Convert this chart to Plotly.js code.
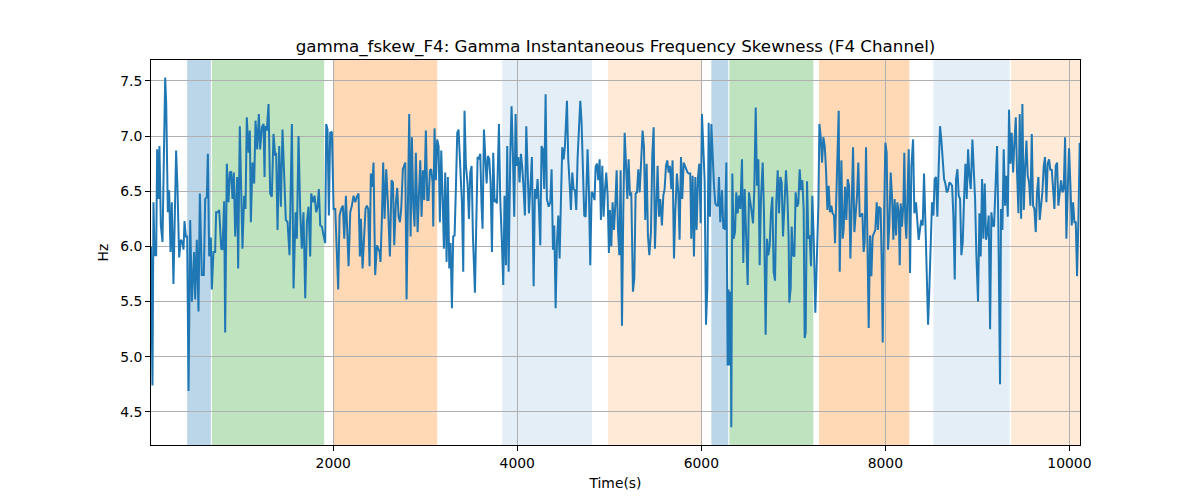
<!DOCTYPE html>
<html>
<head>
<meta charset="utf-8">
<script src="https://cdn.plot.ly/plotly-3.0.1.min.js"></script>
<style>html,body{margin:0;padding:0;background:#fff;}#chart{width:1200px;height:500px;}</style>
</head>
<body>
<div id="chart"></div>
<script>
const chartTitle = "gamma_fskew_F4: Gamma Instantaneous Frequency Skewness (F4 Channel)";
const xLabel = "Time(s)";
const yLabel = "Hz";

const time = [20,36,47,58,76,87,101,112,127,145,174,185,203,217,232,246,264,293,308,326,344,362,373,384,399,413,428,446,464,489,500,518,536,551,572,594,609,627,638,652,670,681,699,717,728,746,761,783,797,815,826,844,862,877,891,906,920,935,956,967,985,1014,1032,1047,1061,1080,1094,1105,1123,1141,1156,1174,1192,1206,1225,1243,1254,
1261,1279,1297,1315,1333,1351,1370,1380,1395,1413,1431,1449,1467,1485,1504,1525,1551,1569,1591,1605,1623,1641,1659,1677,1696,1714,1732,1750,1761,1779,1797,1815,1830,1844,1859,1877,1895,1913,1924,1938,1953,1967,1985,2004,2022,2040,2054,2069,2087,2105,2120,2138,2167,2185,2203,2221,2239,2257,2275,2290,2301,2319,2337,2351,2366,2380,2395,2409,2424,2438,2456,2475,2504,
2514,2529,2543,2558,2576,2594,2616,2634,2649,2663,2681,2696,2710,2725,2739,2757,2783,2797,2812,2826,2841,2855,2870,2884,2898,2917,2931,2946,2960,2975,2989,3007,3022,3036,3051,3065,3080,3087,3101,3116,3130,3145,3159,3174,3188,3203,3217,3232,3246,3261,3275,3290,3304,3319,3333,3348,3362,3377,3399,3413,3427,3442,3460,3475,3489,3504,3518,3540,3554,3569,3583,3598,3612,3623,3638,3652,3667,3681,3696,3710,3725,3739,3754,
3764,3779,3801,3815,3833,3848,3862,3877,3891,3906,3924,3938,3953,3967,3982,3996,4011,4025,4040,4054,4069,4083,4098,4112,4127,4145,4159,4178,4192,4206,4221,4235,4250,4264,4279,4293,4308,4322,4341,4359,4373,4388,4402,4417,4431,4446,4460,4475,4489,4504,4518,4540,4554,4569,4583,4598,4612,4627,4641,4656,4670,4685,4699,4714,4728,4743,4764,4779,4793,4808,4822,4840,4851,4866,4880,4895,4909,4924,4938,4953,4967,4982,4996,
5007,5022,5036,5051,5065,5080,5094,5109,5123,5138,5152,5167,5181,5196,5210,5225,5239,5257,5272,5286,5301,5315,5330,5348,5362,5377,5391,5406,5420,5435,5453,5467,5482,5496,5511,5525,5540,5554,5572,5587,5601,5616,5630,5645,5659,5674,5688,5703,5717,5735,5750,5764,5779,5793,5808,5822,5837,5851,5866,5880,5891,5906,5920,5935,5949,5964,5978,5993,6007,6022,6036,6051,6065,6080,6094,6109,6123,6138,6152,6167,6181,6192,6206,6225,6239,6254,
6257,6272,6286,6297,6308,6319,6326,6337,6351,6366,6380,6395,6409,6424,6442,6456,6471,6485,6504,6518,6533,6547,6562,6576,6591,6605,6620,6634,6648,6667,6681,6699,6714,6728,6743,6757,6772,6786,6801,6815,6830,6844,6859,6873,6888,6902,6920,6935,6949,6956,6971,6982,6996,7011,7025,7040,7054,7069,7083,7098,7112,7123,7134,7149,7163,7177,7192,7206,7221,7239,7257,7272,7283,7297,7312,7326,7341,7355,7370,7384,7398,7413,7427,7442,7453,7467,7482,7493,7504,
7522,7536,7547,7562,7576,7591,7605,7620,7634,7649,7663,7678,7692,7706,7721,7735,7750,7764,7775,7790,7804,7819,7833,7848,7862,7877,7891,7906,7920,7931,7949,7960,7971,7985,8000,8014,8029,8043,8058,8072,8087,8101,8116,8130,8145,8156,8167,8181,8196,8206,8217,8228,8239,8254,8268,8283,8301,8315,8333,8348,8362,8377,8391,8406,8420,8435,8449,8464,8478,8493,8507,8522,8536,8551,8565,8580,8594,8609,8623,8638,8652,8667,8681,8696,8710,8725,8739,8754,
8768,8783,8797,8812,8826,8841,8855,8870,8884,8899,8913,8928,8946,8960,8975,8989,9007,9022,9036,9051,9065,9080,9094,9109,9123,9138,9152,9167,9181,9196,9214,9228,9246,9257,9272,9286,9301,9315,9330,9344,9359,9373,9388,9402,9417,9431,9446,9460,9475,9489,9504,9518,9533,9547,9562,9576,9591,9605,9619,9634,9648,9663,9677,9692,9706,9721,9735,9750,9764,9779,9793,9808,9822,9837,9851,9866,9880,9895,9909,9924,9938,9953,9967,9982,9996,10011,10025,10040,10054,10069,10083,10098,10112];

const hz = [6.00,4.74,6.40,5.92,5.92,6.88,6.43,6.91,6.19,6.04,7.53,7.30,6.31,6.51,5.95,6.40,5.66,6.87,6.52,5.90,6.06,6.04,5.97,6.23,6.09,6.09,4.69,6.24,5.50,5.95,5.52,6.06,5.41,6.48,5.74,5.74,6.43,6.45,6.84,5.91,6.08,5.61,5.95,5.95,6.31,6.31,6.33,5.98,5.97,6.41,5.22,6.75,6.40,6.67,6.68,6.43,6.67,6.09,6.63,5.80,7.09,5.98,6.46,6.34,7.17,6.85,7.05,6.22,6.76,6.57,7.14,6.88,7.20,6.88,7.08,7.11,6.63,
7.09,7.05,7.29,6.48,6.45,7.02,6.82,6.85,6.15,6.91,6.36,7.06,6.67,6.24,6.22,5.92,7.11,5.62,6.31,6.07,7.00,6.33,5.98,6.31,5.53,6.22,6.36,5.91,6.48,6.40,6.46,6.31,6.36,6.52,6.19,6.18,6.10,6.03,7.11,7.06,6.28,7.03,7.04,6.34,6.34,5.95,5.61,6.28,6.34,6.37,6.07,6.46,5.82,6.31,6.37,6.46,6.40,6.45,6.48,5.91,6.25,5.80,6.09,6.34,6.37,6.34,5.82,6.66,6.54,6.76,5.74,6.01,5.95,
5.86,6.25,6.76,6.25,6.70,6.40,5.91,6.60,6.58,6.01,6.40,6.53,6.27,6.22,6.34,6.70,6.76,5.52,6.31,7.20,6.09,6.99,6.37,6.18,6.85,6.13,6.46,6.78,6.27,6.69,6.42,7.05,6.42,6.42,6.69,6.70,6.58,6.18,7.07,6.60,6.97,6.91,6.22,6.87,6.46,5.98,6.67,5.86,6.63,5.80,6.03,5.44,6.09,6.10,6.52,7.03,7.06,6.73,6.39,5.77,7.23,6.73,6.57,6.25,6.67,6.73,6.10,5.58,6.25,6.81,6.79,6.84,6.37,6.16,7.06,6.82,6.57,6.82,6.79,6.58,5.95,6.85,6.40,
6.43,6.39,7.11,6.43,6.04,5.65,6.46,5.83,6.91,5.77,6.82,7.27,6.82,6.27,7.20,6.73,6.81,6.58,6.84,6.72,6.52,6.28,7.09,6.73,6.30,6.57,6.81,5.64,6.52,6.43,6.61,6.37,6.01,6.91,6.88,6.52,7.38,6.43,6.36,6.40,6.70,5.97,6.19,5.44,6.03,6.28,5.89,6.43,6.90,6.79,6.91,7.32,6.79,6.57,6.33,6.67,6.52,6.51,6.33,6.81,7.06,7.32,7.12,6.57,6.28,6.27,6.88,6.49,5.83,6.49,6.48,6.42,6.72,6.75,6.60,6.79,6.24,6.73,6.27,6.51,6.67,6.46,5.94,
6.33,6.00,6.40,6.15,6.37,6.69,6.16,5.92,6.69,5.28,6.31,7.03,6.76,6.43,6.79,6.46,6.49,5.59,5.71,6.48,6.49,6.70,6.49,6.91,7.05,6.90,6.24,6.75,6.10,5.92,6.13,6.82,7.08,5.98,6.49,6.73,6.27,6.43,6.19,6.46,6.52,6.73,6.78,6.67,6.73,6.52,6.78,5.89,6.31,6.66,6.49,6.06,6.81,6.43,6.76,6.73,6.69,6.67,6.66,6.66,6.07,6.64,5.91,6.63,6.15,6.63,6.75,6.21,7.20,6.94,6.60,5.29,5.62,7.12,6.27,7.11,6.82,6.55,6.39,6.37,6.37,6.63,6.22,6.51,6.16,6.24,
6.15,6.76,4.92,5.61,4.92,5.59,4.36,6.66,6.07,6.13,6.49,6.30,6.46,6.34,6.79,5.85,6.52,6.04,5.65,6.49,6.37,6.31,6.21,6.52,7.26,6.55,6.79,5.83,6.43,6.76,6.31,5.20,6.07,5.92,6.01,6.31,6.45,5.77,5.69,6.40,6.69,6.30,6.63,6.58,6.09,6.40,6.69,6.46,6.07,5.49,5.62,6.18,5.92,5.91,6.49,6.36,6.39,6.70,6.51,6.60,6.34,5.17,5.22,6.59,6.07,6.10,5.82,6.46,6.09,5.40,5.98,6.37,7.11,7.00,6.76,6.99,6.91,6.70,6.33,6.55,6.31,6.37,6.30,6.28,6.03,6.43,6.82,7.23,5.77,
6.78,6.07,6.16,6.54,6.24,6.61,6.55,5.89,6.46,6.90,6.13,6.33,6.46,6.76,6.27,6.28,6.30,5.95,6.04,6.90,5.92,5.26,6.10,5.73,6.09,6.13,6.15,6.40,6.15,6.36,6.34,5.86,5.13,6.22,6.94,6.85,5.97,6.19,6.67,6.46,6.06,6.43,6.10,6.40,6.31,5.83,6.39,6.18,6.39,6.85,6.22,6.07,6.34,6.88,5.76,6.73,6.97,6.30,6.40,6.18,6.06,6.16,6.24,6.19,6.66,6.22,5.74,5.29,5.62,6.06,6.40,6.28,6.61,6.63,6.27,6.73,7.09,6.96,6.79,6.61,6.57,6.49,6.51,6.58,6.57,6.55,6.28,5.70,
6.61,6.70,6.46,6.43,5.92,6.04,6.43,6.75,6.43,6.88,6.64,6.52,6.97,6.73,6.43,5.92,5.50,6.30,5.91,6.61,6.07,6.57,6.06,6.13,6.28,5.25,6.31,6.19,6.18,6.52,6.91,6.19,4.75,6.34,6.15,6.88,6.37,6.64,6.27,7.24,6.75,7.03,6.67,6.94,7.17,6.67,6.30,7.20,6.25,7.29,6.33,6.69,6.96,6.64,6.58,6.37,7.02,6.37,6.34,6.13,6.49,6.63,6.24,6.37,6.49,6.73,6.81,6.40,6.75,6.79,6.69,6.70,6.49,6.34,6.73,6.76,6.37,6.52,6.60,6.49,6.52,6.99,6.07,6.52,6.89,6.55,6.19,6.40,6.22,6.22,5.73,6.25,6.94];

const bandStart = [413, 682, 2003, 3837, 4986, 6109, 6304, 7279, 8522, 9366];
const bandEnd   = [671, 1902, 3130, 4812, 6008, 6293, 7217, 8261, 9351, 10120];
const bandKind  = ["blue", "green", "orange", "lightblue", "lightorange", "blue", "green", "orange", "lightblue", "lightorange"];

const xTicks = [2000, 4000, 6000, 8000, 10000];
const yTicks = [4.5, 5.0, 5.5, 6.0, 6.5, 7.0, 7.5];

const bandFill = {
  blue: "rgba(31,119,180,0.3)",
  green: "rgba(44,160,44,0.3)",
  orange: "rgba(255,127,14,0.3)",
  lightblue: "rgba(31,119,180,0.12)",
  lightorange: "rgba(255,127,14,0.16)"
};

const shapes = bandStart.map((s, i) => ({
  type: "rect", xref: "x", yref: "paper",
  x0: s, x1: bandEnd[i], y0: 0, y1: 1,
  fillcolor: bandFill[bandKind[i]], line: {width: 0}, layer: "below"
}));

const font = "DejaVu Sans, sans-serif";

Plotly.newPlot("chart", [{
  x: time, y: hz, type: "scatter", mode: "lines",
  line: {color: "#1f77b4", width: 2}, hoverinfo: "skip"
}], {
  width: 1200, height: 500,
  margin: {l: 151, r: 120, t: 60, b: 55},
  paper_bgcolor: "#fff", plot_bgcolor: "#fff",
  showlegend: false,
  font: {family: font, size: 13.9, color: "#000"},
  title: {text: chartTitle, font: {family: font, size: 16.7, color: "#000"},
          x: 0.5, xref: "paper", xanchor: "center", y: 0.908, yref: "container", yanchor: "middle"},
  xaxis: {
    range: [20, 10115], tickvals: xTicks, ticktext: xTicks.map(String),
    showgrid: true, gridcolor: "#b0b0b0", gridwidth: 1,
    zeroline: false, showline: true, linecolor: "#000", linewidth: 1, mirror: true,
    ticks: "outside", ticklen: 5, tickwidth: 1, tickcolor: "#000",
    tickfont: {family: font, size: 13.9, color: "#000"},
    title: {text: xLabel, font: {family: font, size: 13.9, color: "#000"}, standoff: 8}
  },
  yaxis: {
    range: [4.20, 7.69], tickvals: yTicks, ticktext: yTicks.map(v => v.toFixed(1)),
    showgrid: true, gridcolor: "#b0b0b0", gridwidth: 1,
    zeroline: false, showline: true, linecolor: "#000", linewidth: 1, mirror: true,
    ticks: "outside", ticklen: 5, tickwidth: 1, tickcolor: "#000",
    tickfont: {family: font, size: 13.9, color: "#000"},
    title: {text: yLabel, font: {family: font, size: 13.9, color: "#000"}, standoff: 8}
  },
  shapes: shapes
}, {displayModeBar: false, staticPlot: true});
</script>
</body>
</html>
